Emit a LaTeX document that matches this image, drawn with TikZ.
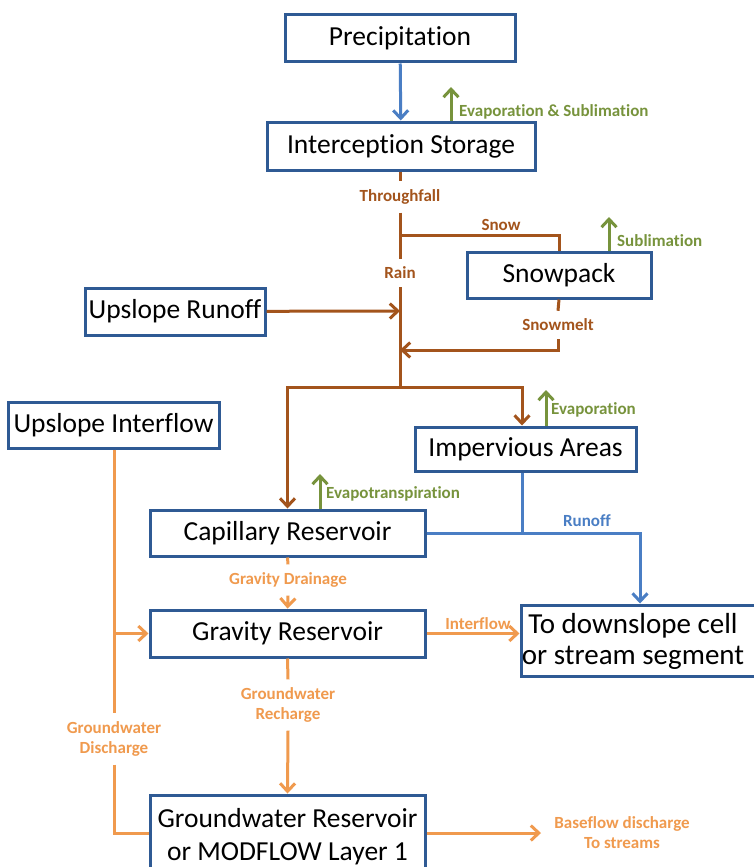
\documentclass[tikz,border=0pt]{standalone}
\usepackage{fontspec}
\setmainfont{Carlito}[Ligatures={NoCommon,NoContextual,NoRequired}]
\usetikzlibrary{arrows.meta}
\definecolor{boxline}{HTML}{2F5A94}
\definecolor{flowblue}{HTML}{4A7EC4}
\definecolor{flowbrown}{HTML}{A3541C}
\definecolor{floworange}{HTML}{F09A4E}
\definecolor{flowgreen}{HTML}{77933C}
\tikzset{
  store/.style={draw=boxline, line width=3pt, fill=white, inner sep=0pt,
    font=\fontsize{27.5}{33}\selectfont, align=center},
  flow/.style={line width=3pt},
  tip/.style={-{Straight Barb[length=8pt,width=15pt,line width=3pt]}},
  lbl/.style={font=\bfseries\fontsize{17}{20}\selectfont, inner xsep=1pt, inner ysep=8pt, align=center},
  loss/.style={flow, draw=flowgreen, tip},
}
\begin{document}
\begin{tikzpicture}[x=1pt,y=-1pt]
\clip (0,0) rectangle (754,867);
\fill[white] (0,0) rectangle (754,867);

% storages
\node[store, minimum width=230pt, minimum height=47pt] (prec) at (400,38.5) {Precipitation};
\node[store, minimum width=268pt, minimum height=48pt] (ints) at (401,146) {Interception Storage};
\node[store, minimum width=184pt, minimum height=46pt] (snow) at (559,275) {Snowpack};
\node[store, minimum width=180pt, minimum height=47pt] (upr) at (175,311.5) {Upslope Runoff};
\node[store, minimum width=211pt, minimum height=46pt] (upi) at (113.5,425) {Upslope Interflow};
\node[store, minimum width=221pt, minimum height=44pt] (imp) at (525.5,449) {Impervious Areas};
\node[store, minimum width=275pt, minimum height=46pt] (cap) at (287.5,533) {Capillary Reservoir};
\node[store, minimum width=275pt, minimum height=47pt] (grav) at (287.5,633.5) {Gravity Reservoir};
\node[store, minimum width=260pt, minimum height=71pt] (down) at (651,640.5) {};
\node[font=\fontsize{29}{31}\selectfont, align=center, inner sep=0pt] (downtxt) at (633,641) {To downslope cell\\or stream segment};
\node[store, minimum width=275pt, minimum height=84pt] (gw) at (287.5,837) {Groundwater Reservoir\\or MODFLOW Layer 1};

% precipitation onto the canopy
\draw[flow, draw=flowblue, tip] (prec) -- (ints);

% vapour losses
\coordinate (e1) at (451,87);
\draw[loss] (ints.north -| e1) -- (e1);
\node[lbl, text=flowgreen, anchor=west] (e1l) at (458,112) {Evaporation \& Sublimation};
\coordinate (e2) at (609,217);
\draw[loss] (snow.north -| e2) -- (e2);
\node[lbl, text=flowgreen, anchor=west] (e2l) at (616,241) {Sublimation};
\coordinate (e3) at (546,390);
\draw[loss] (imp.north -| e3) -- (e3);
\node[lbl, text=flowgreen, anchor=west] (e3l) at (550,410) {Evaporation};
\coordinate (e4) at (320,474);
\draw[loss] (cap.north -| e4) -- (e4);
\node[lbl, text=flowgreen, anchor=west] (e4l) at (325,494) {Evapotranspiration};

% throughfall, rain and snow
\node[lbl, text=flowbrown] (thr) at (400,197) {Throughfall};
\node[lbl, text=flowbrown] (rain) at (400,273) {Rain};
\node[lbl, text=flowbrown, inner ysep=1pt] (snowl) at (501,225) {Snow};
\node[lbl, text=flowbrown] (melt) at (558,325) {Snowmelt};
\coordinate (sj) at (400,235);
\coordinate (j1) at (400,311);
\coordinate (j2) at (400,350);
\coordinate (split) at (400,387);
\draw[flow, draw=flowbrown] (ints.south -| thr) -- (thr.north);
\draw[flow, draw=flowbrown] (thr.south) -- (rain.north);
\draw[flow, draw=flowbrown] (sj) -| (snow.north);
\draw[flow, draw=flowbrown] (rain.south) -- (split);
\draw[flow, draw=flowbrown, tip] (upr) -- (j1);
\draw[flow, draw=flowbrown] (snow.south) -- (melt.north);
\draw[flow, draw=flowbrown, tip] (melt.south) |- (j2);
\draw[flow, draw=flowbrown, tip] (split) -| (cap.north);
\draw[flow, draw=flowbrown, tip] (split) -| ([xshift=-3.5pt]imp.north);

% surface runoff
\node[lbl, text=flowblue, inner ysep=1pt] (runl) at (587,521) {Runoff};
\coordinate (rj) at (522,533);
\coordinate (rd) at (640,0);
\draw[flow, draw=flowblue] ([xshift=-3.5pt]imp.south) -- (rj);
\draw[flow, draw=flowblue, tip] (cap.east) -| (down.north -| rd);

% soil and groundwater flows
\node[lbl, text=floworange] (gdr) at (288,580) {Gravity Drainage};
\draw[flow, draw=floworange] (cap.south) -- (gdr.north);
\draw[flow, draw=floworange, tip] (gdr.south) -- (grav.north);
\node[lbl, text=floworange, inner ysep=1pt] (ifl) at (478,624) {Interflow};
\draw[flow, draw=floworange, tip] (grav.east) -- (down.west |- grav.east);
\node[lbl, text=floworange] (gwr) at (288,705) {Groundwater\\Recharge};
\draw[flow, draw=floworange] (grav.south) -- (gwr.north);
\draw[flow, draw=floworange, tip] (gwr.south) -- (gw.north);
\node[lbl, text=floworange] (gwd) at (114,739) {Groundwater\\Discharge};
\draw[flow, draw=floworange] (upi.south -| gwd) -- (gwd.north);
\draw[flow, draw=floworange] (gwd.south) |- (gw.west |- 0,833);
\coordinate (bj) at (114,633.5);
\draw[flow, draw=floworange, tip] (bj) -- (grav.west);
\coordinate (bf) at (541,833);
\draw[flow, draw=floworange, tip] (gw.east |- bf) -- (bf);
\node[lbl, text=floworange, inner ysep=1pt] (bfl) at (622,833) {Baseflow discharge\\To streams};
\end{tikzpicture}
\end{document}
